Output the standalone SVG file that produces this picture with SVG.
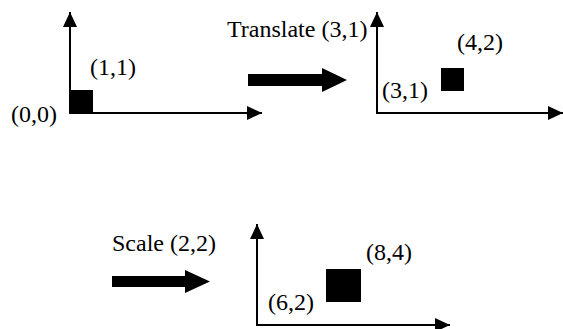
<svg xmlns="http://www.w3.org/2000/svg" width="563" height="329" viewBox="0 0 563 329">
  <style>
    text { font-family: 'Liberation Serif', 'Times New Roman', 'DejaVu Serif', serif; font-size: 24px; fill: #000; }
    .axis { stroke: #000; stroke-width: 2; fill: none; }
    .box { fill: #000; }
    .big { fill: #000; }
  </style>
  <defs>
    <marker id="tip" markerUnits="userSpaceOnUse" markerWidth="16" markerHeight="16" refX="15" refY="7" orient="auto">
      <path d="M0,0 L15,7 L0,14 Z" fill="#000"/>
    </marker>
  </defs>
  <rect width="563" height="329" fill="#fff"/>

  <!-- original square at the origin -->
  <g id="frame-original">
    <path class="axis" d="M70,113 V12" marker-end="url(#tip)"/>
    <path class="axis" d="M69,113 H262" marker-end="url(#tip)"/>
    <rect class="box" x="70" y="90" width="23" height="23"/>
    <text x="90" y="75">(1,1)</text>
    <text x="11" y="122">(0,0)</text>
  </g>

  <!-- translated square -->
  <g id="frame-translated">
    <path class="axis" d="M377,113 V12" marker-end="url(#tip)"/>
    <path class="axis" d="M376,113 H563" marker-end="url(#tip)"/>
    <rect class="box" x="441" y="68" width="23" height="23"/>
    <text x="457" y="50">(4,2)</text>
    <text x="382" y="98">(3,1)</text>
  </g>

  <!-- scaled square -->
  <g id="frame-scaled">
    <path class="axis" d="M257,325 V224" marker-end="url(#tip)"/>
    <path class="axis" d="M256,325 H450" marker-end="url(#tip)"/>
    <rect class="box" x="326" y="269" width="35" height="33"/>
    <text x="366" y="260">(8,4)</text>
    <text x="268" y="310">(6,2)</text>
  </g>

  <!-- transformation arrows -->
  <g id="connectors">
    <g id="translate-step">
      <path class="big" d="M248,74 H322 V68 L347,80 L322,92 V86 H248 Z"/>
      <text x="227" y="37">Translate (3,1)</text>
    </g>
    <g id="scale-step">
      <path class="big" d="M112,276 H185 V270 L210,281.5 L185,293 V287 H112 Z"/>
      <text x="112" y="251">Scale (2,2)</text>
    </g>
  </g>
</svg>
